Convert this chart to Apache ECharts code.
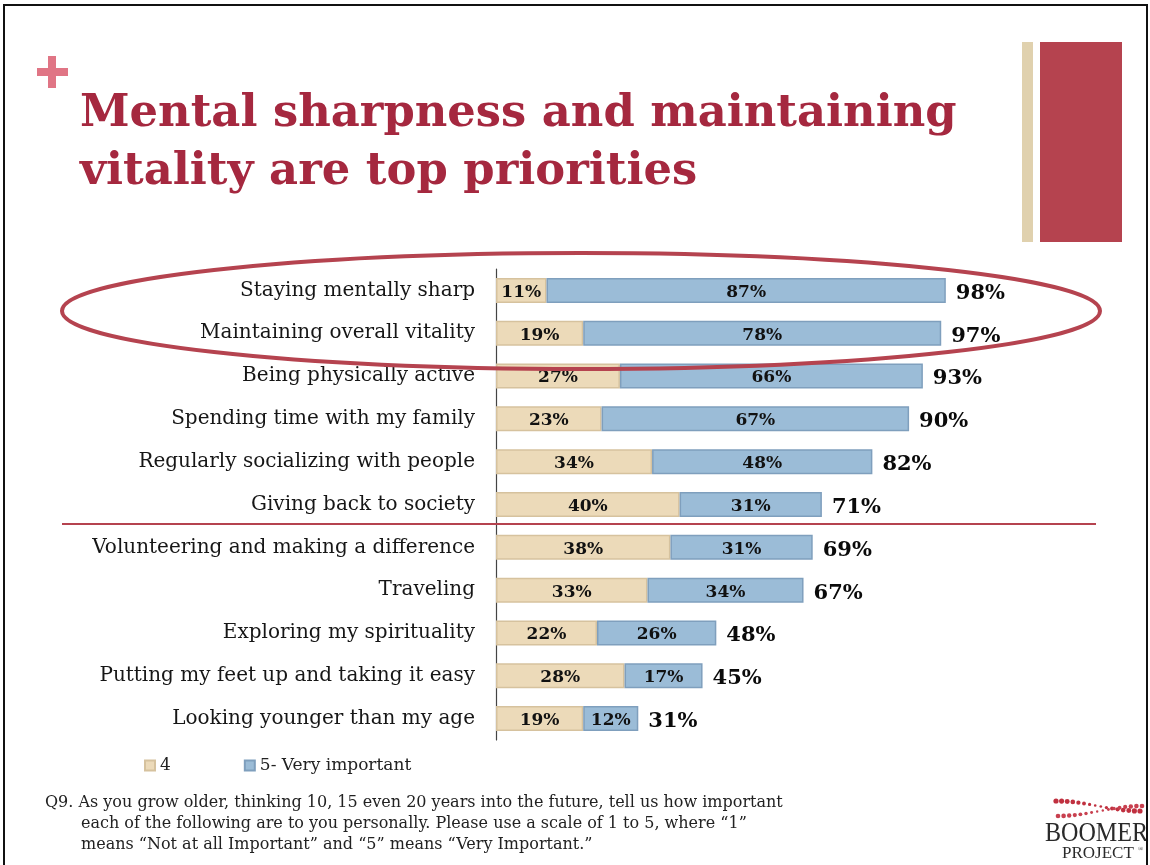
<!DOCTYPE html>
<html>
<head>
<meta charset="utf-8">
<script src="https://cdn.jsdelivr.net/npm/echarts@6/dist/echarts.min.js"></script>
<style>
html,body{margin:0;padding:0;background:#fff;}
#chart{width:1150px;height:865px;}
</style>
</head>
<body>
<div id="chart"></div>
<script>
// ---- data ----
const categories = [
  'Staying mentally sharp',
  'Maintaining overall vitality',
  'Being physically active',
  'Spending time with my family',
  'Regularly socializing with people',
  'Giving back to society',
  'Volunteering and making a difference',
  'Traveling',
  'Exploring my spirituality',
  'Putting my feet up and taking it easy',
  'Looking younger than my age'
];
const important4 = [11, 19, 27, 23, 34, 40, 38, 33, 22, 28, 19];
const veryImportant5 = [87, 78, 66, 67, 48, 31, 31, 34, 26, 17, 12];
const totals = [98, 97, 93, 90, 82, 71, 69, 67, 48, 45, 31];
const seriesNames = ['4', '5- Very important'];
const titleText = 'Mental sharpness and maintaining\nvitality are top priorities';
const footnoteLines = [
  'Q9. As you grow older, thinking 10, 15 even 20 years into the future, tell us how important',
  'each of the following are to you personally. Please use a scale of 1 to 5, where \u201c1\u201d',
  'means \u201cNot at all Important\u201d and \u201c5\u201d means \u201cVery Important.\u201d'
];

// ---- chart ----
const chart = echarts.init(document.getElementById('chart'), null, {renderer: 'canvas'});

const RED = '#b5434f';
const serif = 'DejaVu Serif';

// decorative logo dots
const logoDots = [];
for (let i = 0; i < 16; i++) {
  const t = i / 15;
  const x = 1056 + t * 84;
  const yA = 809 - 5 * Math.cos(Math.PI * t);
  const yB = 809 + 5 * Math.cos(Math.PI * t);
  const r = 1.2 + 1.4 * Math.abs(Math.cos(Math.PI * t));
  logoDots.push({type: 'circle', shape: {cx: x, cy: yA - 3, r: r}, style: {fill: '#c0303f'}, silent: true});
  logoDots.push({type: 'circle', shape: {cx: x + 2, cy: yB + 2, r: r * 0.9}, style: {fill: '#c8404f'}, silent: true});
}

const option = {
  backgroundColor: '#ffffff',
  animation: false,
  title: {
    text: titleText,
    left: 75,
    top: 80,
    textStyle: {
      fontFamily: serif,
      fontWeight: 'bold',
      fontSize: 44.8,
      lineHeight: 58,
      color: '#a5283f'
    }
  },
  legend: {
    data: seriesNames,
    left: 144,
    top: 757,
    padding: 0,
    icon: 'rect',
    itemWidth: 10,
    itemHeight: 10,
    itemGap: 73,
    textStyle: {fontFamily: serif, fontSize: 17, color: '#222', padding: [0, 0, 0, 0]}
  },
  grid: {left: 496, top: 269, width: 459, height: 471, containLabel: false},
  xAxis: {
    type: 'value', min: 0, max: 100,
    show: false,
    splitLine: {show: false}
  },
  yAxis: {
    type: 'category',
    data: categories,
    inverse: true,
    axisLine: {show: true, lineStyle: {color: '#444', width: 1.2}},
    axisTick: {show: false},
    axisLabel: {fontFamily: serif, fontSize: 20, color: '#161616', margin: 21, padding: [4, 0, 0, 0]}
  },
  series: [
    {
      name: seriesNames[0], type: 'bar', stack: 'total', barWidth: 25,
      data: important4,
      itemStyle: {color: '#ecdab9', borderColor: '#d6c29e', borderWidth: 1.5},
      label: {show: true, position: 'inside', offset: [0, 2], formatter: '{c}%', fontFamily: serif, fontWeight: 'bold', fontSize: 17, color: '#111'}
    },
    {
      name: seriesNames[1], type: 'bar', stack: 'total', barWidth: 25,
      data: veryImportant5,
      itemStyle: {color: '#9bbcd7', borderColor: '#7f9fbd', borderWidth: 1.5},
      label: {show: true, position: 'inside', offset: [0, 2], formatter: '{c}%', fontFamily: serif, fontWeight: 'bold', fontSize: 17, color: '#111'}
    },
    {
      name: 'total', type: 'scatter', symbolSize: 0,
      data: totals.map((t, i) => [t, categories[i]]),
      itemStyle: {opacity: 1},
      label: {show: true, position: 'right', distance: 10, offset: [0, 3], formatter: p => p.value[0] + '%', fontFamily: serif, fontWeight: 'bold', fontSize: 21, color: '#0a0a0a'},
      z: 5
    }
  ],
  graphic: [
    // slide frame
    {type: 'rect', shape: {x: 4, y: 5, width: 1143, height: 870}, style: {fill: 'none', stroke: '#111', lineWidth: 2}, silent: true, z: 100},
    // plus sign
    {type: 'rect', shape: {x: 37, y: 68, width: 31, height: 8}, style: {fill: '#e07585'}, silent: true},
    {type: 'rect', shape: {x: 48, y: 56, width: 8, height: 32}, style: {fill: '#e07585'}, silent: true},
    // right decoration bars
    {type: 'rect', shape: {x: 1022, y: 42, width: 11, height: 200}, style: {fill: '#e0d1ae'}, silent: true},
    {type: 'rect', shape: {x: 1040, y: 42, width: 82, height: 200}, style: {fill: RED}, silent: true},
    // separator line
    {type: 'line', shape: {x1: 62, y1: 524, x2: 1096, y2: 524}, style: {stroke: RED, lineWidth: 2}, silent: true, z: 10},
    // highlight ellipse
    {type: 'ellipse', shape: {cx: 581, cy: 311, rx: 519, ry: 58}, style: {fill: 'none', stroke: RED, lineWidth: 4}, silent: true, z: 50},
    // footnote
    {type: 'text', x: 45, y: 803, style: {text: footnoteLines[0], fontFamily: serif, fontSize: 16, fill: '#222', verticalAlign: 'middle'}, silent: true},
    {type: 'text', x: 81, y: 824, style: {text: footnoteLines[1], fontFamily: serif, fontSize: 16, fill: '#222', verticalAlign: 'middle'}, silent: true},
    {type: 'text', x: 81, y: 845, style: {text: footnoteLines[2], fontFamily: serif, fontSize: 16, fill: '#222', verticalAlign: 'middle'}, silent: true},
    // logo
    {type: 'text', x: 1045, y: 820, scaleX: 0.86, style: {text: 'BOOMER', fontFamily: 'Liberation Serif', fontSize: 28, fill: '#2a2a2a'}, silent: true},
    {type: 'text', x: 1062, y: 845, style: {text: 'PROJECT', fontFamily: 'Liberation Serif', fontSize: 17, fill: '#2a2a2a'}, silent: true},
    {type: 'text', x: 1138, y: 846, style: {text: '\u00ae', fontFamily: 'Liberation Serif', fontSize: 7, fill: '#2a2a2a'}, silent: true}
  ].concat(logoDots)
};

chart.setOption(option);
</script>
</body>
</html>
